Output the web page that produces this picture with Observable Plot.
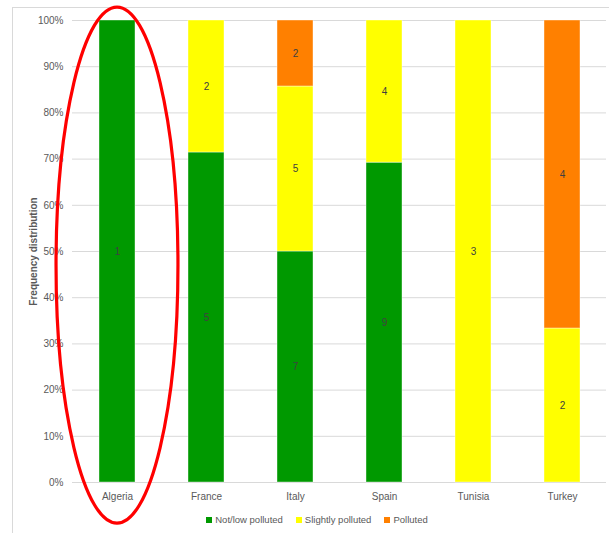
<!DOCTYPE html>
<html>
<head>
<meta charset="utf-8">
<script src="https://cdn.jsdelivr.net/npm/d3@7"></script>
<script src="https://cdn.jsdelivr.net/npm/@observablehq/plot@0.6"></script>
<style>
  html, body { margin: 0; padding: 0; background: #fff; }
  #wrap { position: relative; width: 614px; height: 533px; overflow: hidden; font-family: "Liberation Sans", Arial, sans-serif; }
  #frame { position: absolute; left: 12px; top: 7px; width: 596px; height: 540px; border-left: 1px solid #d9d9d9; border-top: 1px solid #d9d9d9; }
  #chart { position: absolute; left: 0; top: 0; }
  #chart svg { overflow: visible; }
  g[aria-label="y-axis label"] text { font-weight: bold; fill: #595959; }
  #legend { position: absolute; left: 0; top: 514px; width: 614px; display: flex; justify-content: center; gap: 13px; font-size: 9.5px; color: #595959; padding-left: 20px; box-sizing: border-box; }
  #legend span.item { display: inline-flex; align-items: center; }
  #legend span.sw { display: inline-block; width: 6px; height: 6px; margin-right: 3px; }
</style>
</head>
<body>
<div id="wrap">
  <div id="frame"></div>
  <div id="chart"></div>
  <div id="legend"></div>
</div>
<script>
const countries = ["Algeria", "France", "Italy", "Spain", "Tunisia", "Turkey"];
const categories = ["Not/low polluted", "Slightly polluted", "Polluted"];
const colors = ["#009900", "#ffff00", "#ff8000"];
const notLow   = [1, 5, 7, 9, 0, 0];
const slightly = [0, 2, 5, 4, 3, 2];
const polluted = [0, 0, 2, 0, 0, 4];
const yTicks = [0, 0.1, 0.2, 0.3, 0.4, 0.5, 0.6, 0.7, 0.8, 0.9, 1];
// annotation ellipse around Algeria (in data units)
const highlight = {country: "Algeria", top: 1.028, bottom: -0.089, halfWidthBands: 0.685};

const series = [notLow, slightly, polluted];
const data = [];
categories.forEach((cat, ci) => {
  countries.forEach((c, i) => {
    if (series[ci][i] > 0) data.push({country: c, category: cat, count: series[ci][i]});
  });
});

const ellipseMark = (index, scales, values, dims, context) => {
  const x = scales.x, y = scales.y;
  const bw = x.bandwidth ? x.bandwidth() : 0;
  const step = x.step ? x.step() : bw;
  const cx = x(highlight.country) + bw / 2;
  const y1 = y(highlight.top), y2 = y(highlight.bottom);
  const el = d3.create("svg:ellipse")
    .attr("cx", cx)
    .attr("cy", (y1 + y2) / 2)
    .attr("rx", step * highlight.halfWidthBands)
    .attr("ry", Math.abs(y2 - y1) / 2)
    .attr("fill", "none")
    .attr("stroke", "#ff0000")
    .attr("stroke-width", 3.2);
  return el.node();
};

const plot = Plot.plot({
  width: 614,
  height: 508,
  marginLeft: 72,
  marginRight: 8,
  marginTop: 20,
  marginBottom: 26,
  style: {fontFamily: "Liberation Sans, Arial, sans-serif", fontSize: "10px", color: "#595959", background: "transparent"},
  x: {domain: countries, paddingInner: 0.6, paddingOuter: 0.3, label: null},
  y: {domain: [0, 1], label: null},
  color: {domain: categories, range: colors},
  marks: [
    Plot.ruleY(yTicks, {stroke: "#d9d9d9", strokeWidth: 1}),
    Plot.barY(data, Plot.stackY({offset: "normalize", x: "country", y: "count", fill: "category", stroke: "#ffffff", strokeOpacity: 0.5, strokeWidth: 0.8})),
    Plot.text(data, Plot.stackY({offset: "normalize", x: "country", y: "count", z: "category", text: d => String(d.count), fill: "#404040", fontSize: 10})),
    Plot.axisY({ticks: yTicks, tickFormat: d3.format(".0%"), tickSize: 0, tickPadding: 9, label: "Frequency distribution", labelAnchor: "center", labelOffset: 43, labelArrow: "none", fill: "#595959"}),
    Plot.axisX({tickSize: 0, tickPadding: 10, label: null, fill: "#595959"}),
    ellipseMark
  ]
});
document.getElementById("chart").appendChild(plot);

const legend = document.getElementById("legend");
categories.forEach((cat, i) => {
  const item = document.createElement("span");
  item.className = "item";
  const sw = document.createElement("span");
  sw.className = "sw";
  sw.style.background = colors[i];
  item.appendChild(sw);
  item.appendChild(document.createTextNode(cat));
  legend.appendChild(item);
});
</script>
</body>
</html>
